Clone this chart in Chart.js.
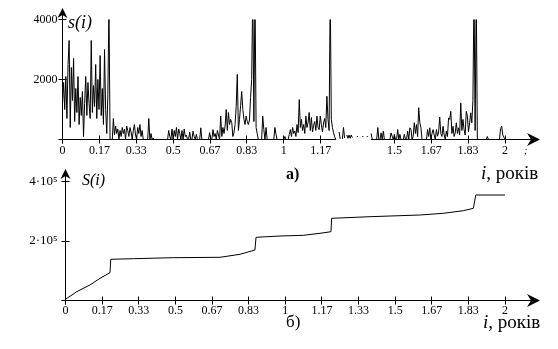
<!DOCTYPE html>
<html><head><meta charset="utf-8">
<script src="https://cdn.jsdelivr.net/npm/chart.js@4/dist/chart.umd.min.js"></script>
<style>
html,body{margin:0;padding:0;background:#fff;}
#wrap{position:relative;width:558px;height:349px;overflow:hidden;background:#fff;}
canvas{position:absolute;left:0;top:0;}
.t{position:absolute;font-family:'Liberation Serif','Times New Roman',serif;line-height:1;white-space:nowrap;color:#000;}
</style></head><body>
<div id="wrap">
<canvas id="c1" width="558" height="349" style="width:558px;height:349px"></canvas>
<canvas id="c2" width="558" height="349" style="width:558px;height:349px"></canvas>
<span class="t" style="left:68px;top:13px;font-size:18px;font-style:italic">s(i)</span>
<span class="t" style="left:286px;top:166px;font-size:16px;font-weight:bold">а)</span>
<span class="t" style="left:481px;top:163px;font-size:19px"><i>i</i>, років</span>
<span class="t" style="left:524px;top:146px;font-size:10px;font-style:italic">;</span>
<span class="t" style="left:82px;top:172px;font-size:16px;font-style:italic">S(i)</span>
<span class="t" style="left:286px;top:313px;font-size:17px">б)</span>
<span class="t" style="left:483px;top:312px;font-size:19px"><i>i</i>, років</span>
</div>
<script>
// ---- data: top chart s(i), sampled every 0.005 year ----
const sStep = 0.005;
const sVals = [
1200,1900,1000,2100,700,2500,3300,400,2400,1300,2700,600,1700,900,2100,500,1400,800,1600,100,
1200,2100,800,1900,1200,700,3300,900,1800,1100,2500,700,2000,1000,2800,800,1700,500,3000,1000,
200,1500,4500,0,0,0,700,150,450,200,350,0,300,100,400,200,350,0,450,300,
100,400,250,0,300,500,150,0,400,200,500,100,300,0,0,0,0,0,700,0,
200,0,50,0,0,0,0,0,0,0,0,0,0,0,0,0,300,100,0,350,
0,300,100,400,0,350,200,0,300,0,350,100,150,0,0,250,0,0,280,100,
0,170,0,0,0,390,0,0,0,0,0,0,0,230,0,0,330,100,200,0,
300,150,0,780,100,400,200,450,1000,300,900,500,670,560,100,230,500,1100,2170,300,
670,1130,1600,1000,670,500,780,600,500,650,1400,2000,5000,600,5000,400,200,0,0,0,
0,780,330,0,400,0,0,0,0,0,0,0,400,170,0,0,0,0,0,0,
0,100,0,0,0,170,330,100,400,200,280,100,500,230,1330,400,670,300,500,200,
780,400,560,900,300,730,250,470,600,300,780,400,330,780,500,250,560,700,400,1440,
670,300,5000,670,400,230,100,0,null,null,250,20,null,20,400,50,null,150,40,150,
40,150,60,null,null,null,100,100,null,null,null,100,100,null,null,100,100,null,null,200,
0,0,0,0,0,400,0,0,220,0,280,0,0,0,0,0,0,220,110,0,
170,0,0,330,0,170,0,0,0,170,0,0,280,0,390,330,0,100,560,200,
500,100,1060,560,390,0,0,0,0,0,330,100,390,0,200,330,150,0,330,110,
250,750,200,100,440,150,0,280,100,720,670,940,200,440,100,220,555,200,390,150,
1220,300,670,330,150,940,780,250,555,890,555,1300,5000,300,5000,0,0,0,0,0,
0,0,0,0,100,0,0,0,0,0,0,0,0,0,0,0,360,450,150,80,
0
];
const topXTicks  = [0, 0.16667, 0.33333, 0.5, 0.66667, 0.83333, 1, 1.16667, 1.5, 1.66667, 1.83333, 2];
const topXLabels = ['0','0.17','0.33','0.5','0.67','0.83','1','1.17','1.5','1.67','1.83','2'];
const topYTicks  = [2000, 4000];
const topYLabels = ['2000', '4000'];
const topAxisGap = [1.236, 1.394];

// ---- data: bottom chart S(i), cumulative ----
const cumX = [0, 0.051, 0.111, 0.157, 0.2025, 0.206, 0.309, 0.49, 0.703, 0.794, 0.862, 0.867, 0.976, 1.082, 1.158, 1.208, 1.211, 1.386, 1.614, 1.719, 1.81, 1.856, 1.867, 2.0];
const cumY = [4000, 29600, 52100, 74600, 93400, 138500, 140500, 143900, 145200, 155300, 169700, 212400, 216800, 219100, 225900, 231200, 276300, 281700, 287400, 293100, 301800, 309900, 354600, 354600];
const botXTicks  = [0, 0.16667, 0.33333, 0.5, 0.66667, 0.83333, 1, 1.16667, 1.33333, 1.5, 1.66667, 1.83333, 2];
const botXLabels = ['0','0.17','0.33','0.5','0.67','0.83','1','1.17','1.33','1.5','1.67','1.83','2'];
const botYTicks  = [0, 200000, 400000];
const botYLabels = ['', '2·10⁵', '4·10⁵'];

const FONT = "'Liberation Serif','Times New Roman',serif";
function snap(v){ return Math.round(v - 0.5) + 0.5; }

const axisPlugin = {
  id: 'mcAxes',
  afterDatasetsDraw(chart, args, o) {
    const {ctx, chartArea: a, scales: {x, y}} = chart;
    const x0 = snap(x.getPixelForValue(0)), y0 = snap(y.getPixelForValue(0));
    const tipX = a.right + o.arrowX, tipY = a.top - o.arrowY;
    ctx.save();
    ctx.strokeStyle = '#000'; ctx.fillStyle = '#000'; ctx.lineWidth = 1;
    ctx.beginPath();
    let start = x0 - 4;
    (o.gaps || []).forEach(g => {
      ctx.moveTo(start, y0); ctx.lineTo(x.getPixelForValue(g[0]), y0);
      start = x.getPixelForValue(g[1]);
    });
    ctx.moveTo(start, y0); ctx.lineTo(tipX - 8, y0);
    ctx.moveTo(x0, y0 + 4); ctx.lineTo(x0, tipY + 6);
    x.ticks.forEach(t => { const px = snap(x.getPixelForValue(t.value)); ctx.moveTo(px, y0 - 4); ctx.lineTo(px, y0 + 4); });
    y.ticks.forEach(t => { const py = snap(y.getPixelForValue(t.value)); ctx.moveTo(x0 - 4, py); ctx.lineTo(x0 + 4, py); });
    ctx.stroke();
    ctx.beginPath();
    ctx.moveTo(tipX, y0); ctx.lineTo(tipX - 13, y0 - 6.5); ctx.lineTo(tipX - 9, y0); ctx.lineTo(tipX - 13, y0 + 6.5); ctx.closePath();
    ctx.fill();
    ctx.beginPath();
    ctx.moveTo(x0, tipY); ctx.lineTo(x0 - 5, tipY + 10); ctx.lineTo(x0, tipY + 7); ctx.lineTo(x0 + 5, tipY + 10); ctx.closePath();
    ctx.fill();
    ctx.restore();
  }
};

function makeChart(id, data, xt, xl, yt, yl, yMax, pad, yW, xH, yPad, xPad, yFont, axOpts) {
  return new Chart(document.getElementById(id), {
    type: 'line',
    data: { datasets: [{ data: data, borderColor: '#000', borderWidth: 1, pointRadius: 0, tension: 0, spanGaps: false, fill: false }] },
    options: {
      responsive: false, animation: false, events: [],
      layout: { padding: pad },
      plugins: { legend: { display: false }, tooltip: { enabled: false }, mcAxes: axOpts },
      scales: {
        x: {
          type: 'linear', min: 0, max: 2, position: 'bottom',
          afterBuildTicks: s => { s.ticks = xt.map(v => ({ value: v })); },
          afterFit: s => { s.height = xH; },
          grid: { display: false, drawTicks: false }, border: { display: false },
          ticks: { autoSkip: false, maxRotation: 0, padding: xPad, color: '#000', font: { family: FONT, size: 12 },
                   callback: (v, i) => xl[i] }
        },
        y: {
          type: 'linear', min: 0, max: yMax, position: 'left',
          afterBuildTicks: s => { s.ticks = yt.map(v => ({ value: v })); },
          afterFit: s => { s.width = yW; },
          grid: { display: false, drawTicks: false }, border: { display: false },
          ticks: { padding: yPad, color: '#000', font: { family: FONT, size: yFont },
                   callback: (v, i) => yl[i] }
        }
      }
    },
    plugins: [axisPlugin]
  });
}

const topData = sVals.map((v, k) => ({ x: k * sStep, y: v }));
const botData = cumX.map((x, i) => ({ x: x, y: cumY[i] }));

makeChart('c1', topData, topXTicks, topXLabels, topYTicks, topYLabels, 4000,
  { left: 0, right: 53, top: 19.5, bottom: 0 }, 62.5, 349 - 139.5, 5, 4, 12,
  { gaps: [topAxisGap], arrowX: 35, arrowY: 11.5 });
makeChart('c2', botData, botXTicks, botXLabels, botYTicks, botYLabels, 400000,
  { left: 0, right: 53, top: 181.5, bottom: 0 }, 65.5, 349 - 300.5, 8, 3, 13,
  { gaps: [], arrowX: 35, arrowY: 12.5 });
</script>
</body></html>
